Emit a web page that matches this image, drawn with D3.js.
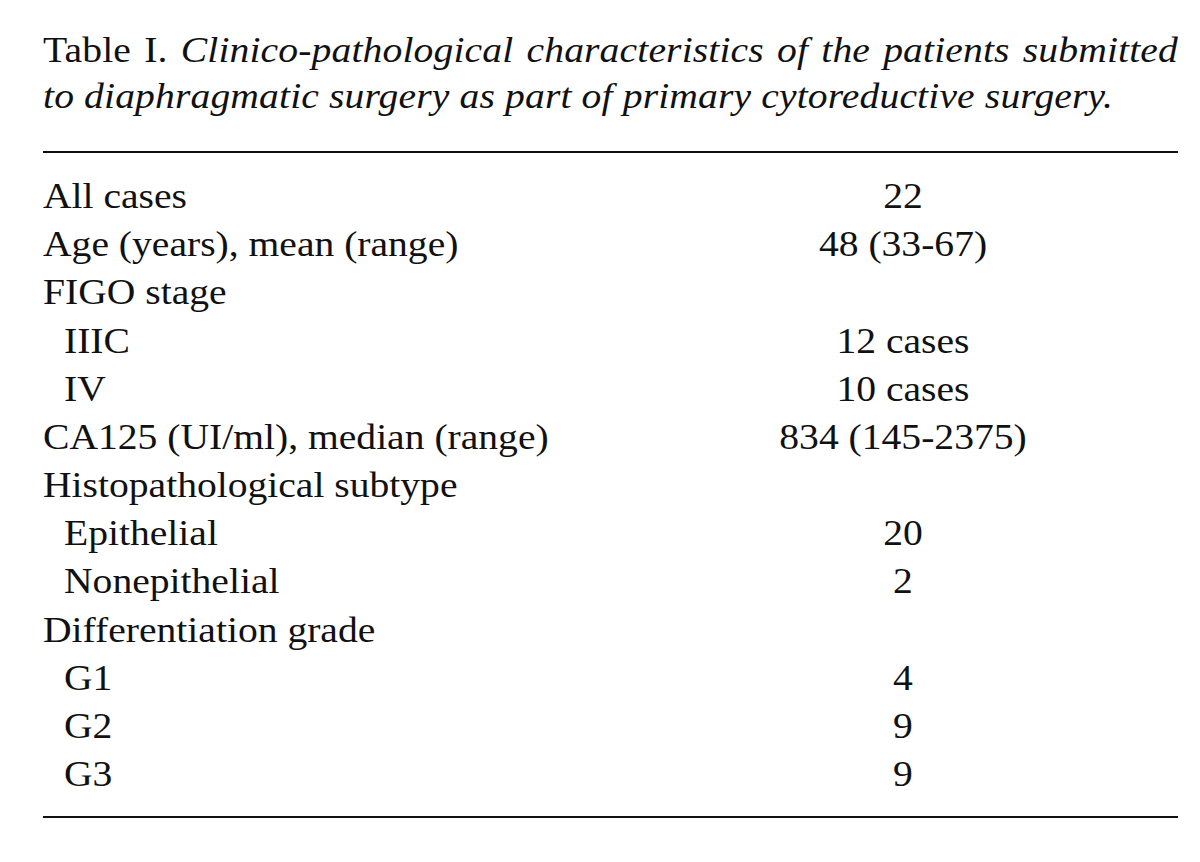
<!DOCTYPE html>
<html><head><meta charset="utf-8">
<script src="https://cdn.jsdelivr.net/npm/d3@7"></script>
<style>html,body{margin:0;padding:0;background:#fff;}svg{display:block;}</style>
</head><body>
<script>
const titleLead = "Table I.";
const titleLine1 = "Clinico-pathological characteristics of the patients submitted";
const titleLine2 = "to diaphragmatic surgery as part of primary cytoreductive surgery.";
const rowLabels = ["All cases","Age (years), mean (range)","FIGO stage","IIIC","IV","CA125 (UI/ml), median (range)","Histopathological subtype","Epithelial","Nonepithelial","Differentiation grade","G1","G2","G3"];
const rowValues = ["22","48 (33-67)","","12 cases","10 cases","834 (145-2375)","","20","2","","4","9","9"];
const rowIndent = [0,0,0,1,1,0,0,1,1,0,1,1,1];

const W = 1200, H = 862;
const left = 43, right = 1178, valueCenter = 903;
const fontFamily = "'Liberation Serif','Times New Roman',serif";
const fs = 36;
const sx = 1.1;

const svg = d3.select("body").append("svg").attr("width", W).attr("height", H);
svg.append("rect").attr("width", W).attr("height", H).attr("fill", "#fff");

const y = d3.scalePoint().domain(d3.range(rowLabels.length)).range([208, 786]);

// title
const tg = svg.append("g").attr("font-family", fontFamily).attr("font-size", fs).attr("fill", "#111");
const t2 = tg.append("text").attr("x", 0).attr("y", 0).attr("font-style", "italic")
  .attr("transform", `translate(${left},108) scale(${sx},1)`).text(titleLine2);
const n2 = t2.node().getComputedTextLength();
const ls = ((1113 - left) / sx - n2) / (titleLine2.length - 1);
t2.attr("letter-spacing", ls);

const t1 = tg.append("text").attr("x", 0).attr("y", 0).attr("letter-spacing", ls)
  .attr("transform", `translate(${left},62) scale(${sx},1)`);
t1.append("tspan").text(titleLead + " ");
t1.append("tspan").attr("font-style", "italic").text(titleLine1);
const natural1 = t1.node().getComputedTextLength();
const spaces1 = (titleLead + " " + titleLine1).split(" ").length - 1;
const extra = ((right - left) / sx - natural1) / spaces1;
t1.attr("word-spacing", extra);

// rules
svg.append("line").attr("x1", left).attr("x2", right).attr("y1", 152).attr("y2", 152).attr("stroke", "#111").attr("stroke-width", 2.2);
svg.append("line").attr("x1", left).attr("x2", right).attr("y1", 817).attr("y2", 817).attr("stroke", "#111").attr("stroke-width", 2.2);

// rows
const rows = svg.append("g").attr("font-family", fontFamily).attr("font-size", fs).attr("fill", "#111")
  .selectAll("g").data(rowLabels.map((l, i) => ({l, v: rowValues[i], ind: rowIndent[i], i}))).join("g");
rows.append("text").attr("transform", d => `translate(${left + d.ind * 21},${y(d.i)}) scale(${sx},1)`).text(d => d.l);
rows.filter(d => d.v).append("text").attr("text-anchor", "middle")
  .attr("transform", d => `translate(${valueCenter},${y(d.i)}) scale(${sx},1)`).text(d => d.v);
</script>
</body></html>
